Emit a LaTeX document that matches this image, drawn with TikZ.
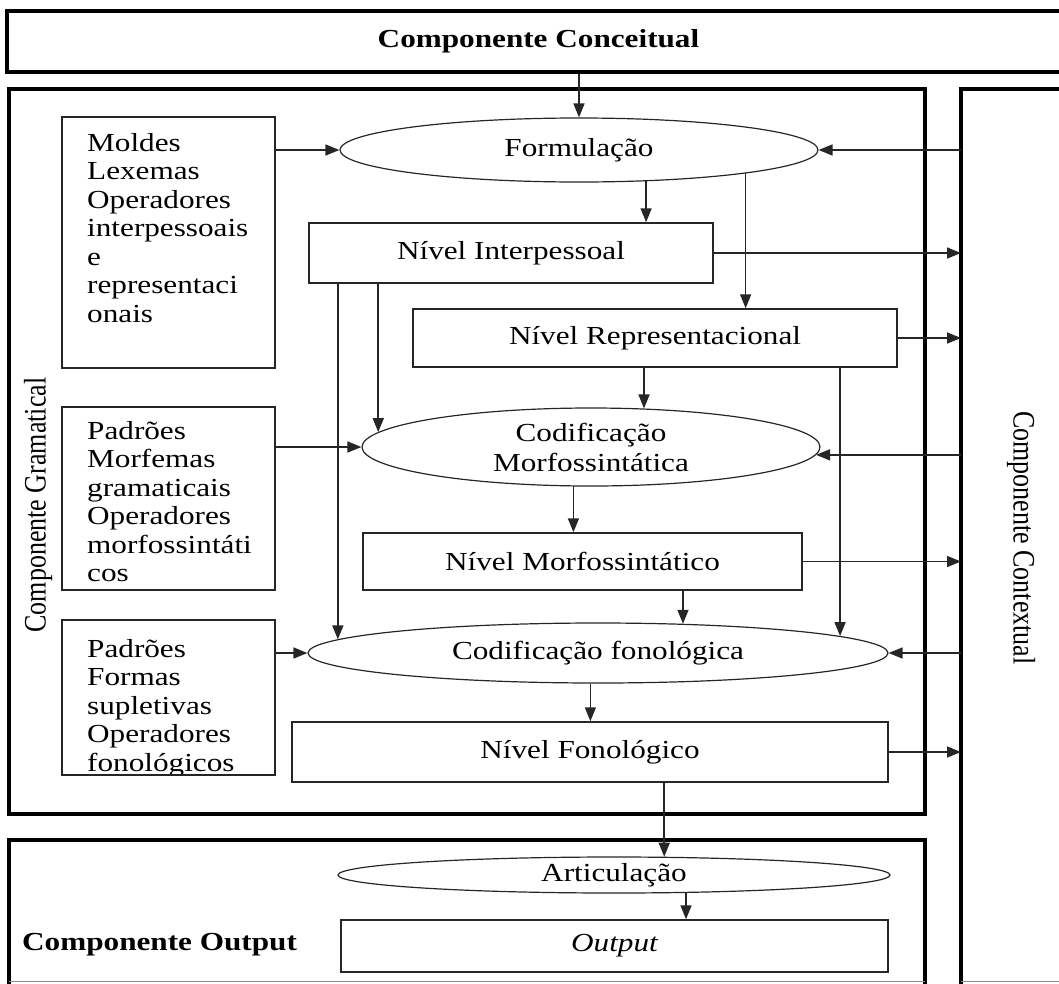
\documentclass[tikz,border=0pt]{standalone}
\usepackage{fontspec}
\setmainfont{Liberation Serif}
\newfontfamily\dfont[FakeStretch=1.2]{Liberation Serif}
\newfontfamily\rfont[FakeStretch=0.833]{Liberation Serif}
\usetikzlibrary{shapes.geometric,arrows.meta,calc}
\begin{document}
\begin{tikzpicture}[x=1pt,y=-1pt,
  comp/.style={line width=4pt, draw=black},
  compnode/.style={comp, rectangle, inner sep=0pt},
  boxn/.style={draw=black!85, line width=1.5pt, rectangle, inner sep=0pt,
     font=\dfont\fontsize{26}{30}\selectfont},
  oval/.style={draw=black!85, line width=1.2pt, ellipse, inner sep=0pt,
     align=center, font=\dfont\fontsize{26}{30}\selectfont},
  ltext/.style={inner sep=0pt, anchor=north west, align=left,
     font=\dfont\fontsize{26}{28.5}\selectfont},
  rtext/.style={inner sep=0pt, font=\rfont\fontsize{31.2}{36}\selectfont},
  arr/.style={draw=black!85, line width=1.6pt, -{Triangle[length=14pt,width=11pt]}},
  thinedge/.style={draw=black!45, line width=1pt}]
\useasboundingbox (0,0) rectangle (1059,983);
\clip (0,0) rectangle (1059,983);

% components
\node[compnode, minimum width=1063pt, minimum height=61pt,
      font=\dfont\bfseries\fontsize{26}{30}\selectfont] (conc) at (538.5,41.5) {Componente Conceitual};
\node[compnode, minimum width=916pt, minimum height=725pt] (gram) at (467,451.5) {};
\draw[comp] (1075,89) -- (961,89) -- (961,985);
\draw[thinedge] (961,981) -- (1075,981);
\coordinate (ctxw) at (961,0);
\draw[comp] (9,985) -- (9,840) -- (925,840) -- (925,985);
\draw[thinedge] (9,981) -- (925,981);

\node[rtext, rotate=90] (gramt) at (38,505) {Componente Gramatical};
\node[rtext, rotate=-90] (ctxt) at (1021,538) {Componente Contextual};
\node[inner sep=0pt, anchor=west, font=\dfont\bfseries\fontsize{26}{30}\selectfont] (outt) at (22,945) {Componente Output};

% left boxes
\node[boxn, minimum width=213pt, minimum height=251pt] (mb) at (168.5,242.5) {};
\node[ltext] (mbt) at (87,133) {Moldes\\Lexemas\\Operadores\\interpessoais\\e\\representaci\\onais};
\node[boxn, minimum width=213pt, minimum height=183pt] (pm) at (168.5,498.5) {};
\node[ltext] (pmt) at (87,421) {Padrões\\Morfemas\\gramaticais\\Operadores\\morfossintáti\\cos};
\node[boxn, minimum width=213pt, minimum height=155pt] (pf) at (168.5,697.5) {};
\begin{scope}
  \clip ($(pf.north west)+(1,1)$) rectangle ($(pf.south east)+(-1,-2)$);
  \node[ltext] (pft) at (87,639) {Padrões\\Formas\\supletivas\\Operadores\\fonológicos};
\end{scope}

% levels
\node[oval, minimum width=478pt, minimum height=64pt] (fo) at (579,150) {Formulação};
\node[boxn, minimum width=404pt, minimum height=60pt] (ni) at (511,253) {Nível Interpessoal};
\node[boxn, minimum width=484pt, minimum height=58pt] (nr) at (655,338) {Nível Representacional};
\node[oval, minimum width=458pt, minimum height=78pt] (cm) at (591,447) {Codificação\\Morfossintática};
\node[boxn, minimum width=439pt, minimum height=57pt] (nm) at (582.5,561.5) {Nível Morfossintático};
\node[oval, minimum width=580pt, minimum height=60pt] (cf) at (598,653) {Codificação fonológica};
\node[boxn, minimum width=596pt, minimum height=60pt] (nf) at (590,752) {Nível Fonológico};
\node[oval, minimum width=552pt, minimum height=36pt] (ar) at (614,875) {Articulação};
\node[boxn, minimum width=547pt, minimum height=52pt] (out) at (614.5,946) {\itshape Output};

% connectors
\draw[arr] (conc.south -| fo.north) -- (fo.north);
\draw[arr] (mb.east |- fo.west) -- (fo.west);
\draw[arr] (ctxw |- fo.east) -- (fo.east);
\draw[arr] (fo.-25.7) -- (ni.north -| fo.-25.7);
\draw[arr] (fo.-8.8) -- (nr.north -| fo.-8.8);
\draw[arr] (ni.east) -- (ctxw |- ni.east);
\draw[arr] (nr.east) -- (ctxw |- nr.east);
\draw[arr] (ni.south -| cm.176.2) -- (cm.176.2);
\draw[arr] (ni.south -| cf.177.5) -- (cf.177.5);
\draw[arr] (nr.south -| cm.36.2) -- (cm.36.2);
\draw[arr] (nr.south -| cf.4.07) -- (cf.4.07);
\draw[arr] (pm.east |- cm.west) -- (cm.west);
\draw[arr] (ctxw |- cm.-2.9) -- (cm.-2.9);
\draw[arr] (cm.-114.9) -- (nm.north -| cm.-114.9);
\draw[arr] (nm.east) -- (ctxw |- nm.east);
\draw[arr] (nm.south -| cf.19.6) -- (cf.19.6);
\draw[arr] (pf.east |- cf.west) -- (cf.west);
\draw[arr] (ctxw |- cf.east) -- (cf.east);
\draw[arr] (cf.-104.9) -- (nf.north -| cf.-104.9);
\draw[arr] (nf.east) -- (ctxw |- nf.east);
\draw[arr] (nf.south -| ar.20.2) -- (ar.20.2);
\draw[arr] (ar.-14.6) -- (out.north -| ar.-14.6);
\end{tikzpicture}
\end{document}
